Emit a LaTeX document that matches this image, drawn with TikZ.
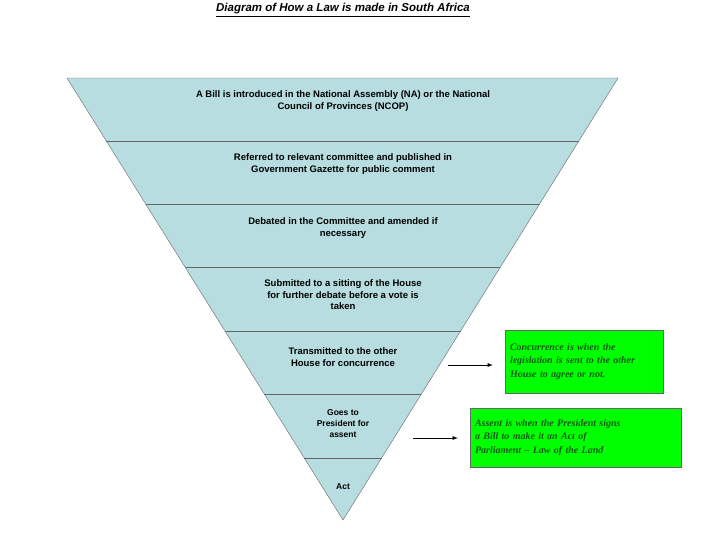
\documentclass[tikz,border=0pt]{standalone}
\usepackage{fontspec}
\setmainfont{Liberation Serif}
\setsansfont{Liberation Sans}
\usetikzlibrary{calc}
\definecolor{bandblue}{RGB}{183,221,224}
\definecolor{notegreen}{RGB}{0,255,0}
\definecolor{notetext}{RGB}{20,90,20}
\tikzset{
  steptext/.style={font=\sffamily\bfseries\fontsize{9.5}{11.5}\selectfont, align=center},
  notebox/.style={draw=black!60, fill=notegreen, font=\rmfamily\bfseries\itshape\fontsize{10}{13.5}\selectfont, text=notetext, align=left, inner sep=4pt},
  pointer/.style={-latex, thick}
}
\begin{document}
\begin{tikzpicture}[x=1pt,y=-1pt]
  \useasboundingbox (0,0) rectangle (720,550);
  \coordinate (TL) at (67,78);
  \coordinate (TR) at (618,78);
  \coordinate (A) at (343,520);
  \fill[bandblue, draw=black!60] (TL) -- (TR) -- (A) -- cycle;
  \foreach \y in {141,204,267,331,394,458}
  {
    \draw[black!60] ($(TL)!{(\y-78)/442}!(A)$) -- ($(TR)!{(\y-78)/442}!(A)$);
  }
  \node[font=\sffamily\bfseries\itshape\fontsize{11.5}{13}\selectfont] (title) at (343,10) {\underline{Diagram of How a Law is made in South Africa}};
  \node[steptext] (s1) at (343,101) {A Bill is introduced in the National Assembly (NA) or the National\\Council of Provinces (NCOP)};
  \node[steptext] (s2) at (343,164) {Referred to relevant committee and published in\\Government Gazette for public comment};
  \node[steptext] (s3) at (343,228) {Debated in the Committee and amended if\\necessary};
  \node[steptext] (s4) at (343,295) {Submitted to a sitting of the House\\for further debate before a vote is\\taken};
  \node[steptext] (s5) at (343,357) {Transmitted to the other\\House for concurrence};
  \node[steptext, font=\sffamily\bfseries\fontsize{8.5}{11}\selectfont] (s6) at (343,424) {Goes to\\President for\\assent};
  \node[steptext, font=\sffamily\bfseries\fontsize{8.5}{11}\selectfont] (s7) at (343,487) {Act};
  \node[notebox, minimum width=158pt, minimum height=63pt, text width=148pt] (n1) at (584,361.5) {Concurrence is when the\\legislation is sent to the other\\House to agree or not.};
  \node[notebox, minimum width=211pt, minimum height=59pt, text width=201pt] (n2) at (575.5,437.5) {Assent is when the President signs\\a Bill to make it an Act of\\Parliament -- Law of the Land};
  \coordinate (p1) at (448,365);
  \coordinate (p2) at (413,438);
  \draw[pointer] (p1) -- ($(n1.west |- p1)+(-12,0)$);
  \draw[pointer] (p2) -- ($(n2.west |- p2)+(-12,0)$);
\end{tikzpicture}
\end{document}
